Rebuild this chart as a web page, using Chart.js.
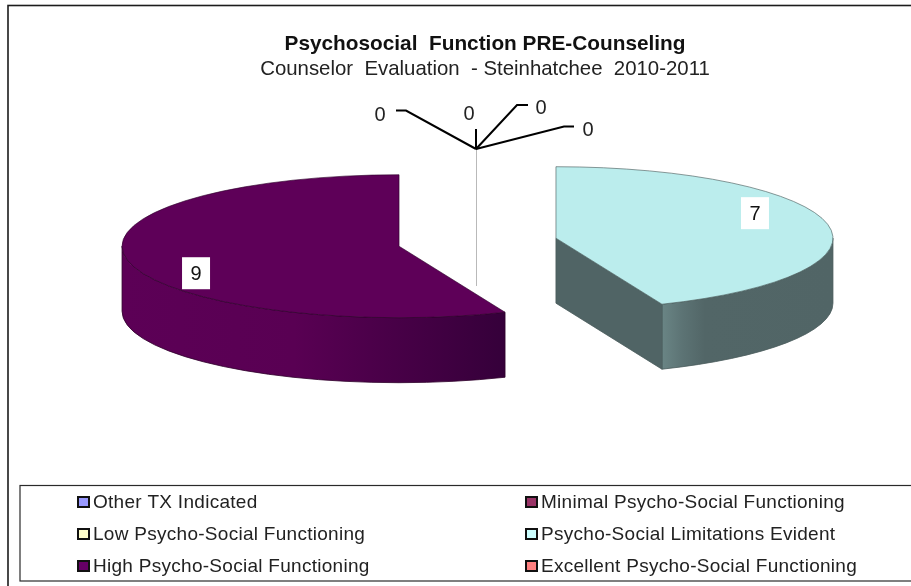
<!DOCTYPE html>
<html>
<head>
<meta charset="utf-8">
<style>
  html, body { margin: 0; padding: 0; background: #fff; overflow: hidden; }
  canvas { display: block; }
</style>
<script src="https://cdn.jsdelivr.net/npm/chart.js@4/dist/chart.umd.js"></script>
</head>
<body>
<canvas id="pie" width="911" height="586"></canvas>
<script>
const categories = ['Other TX Indicated', 'Minimal Psycho-Social Functioning', 'Low Psycho-Social Functioning', 'Psycho-Social Limitations Evident', 'High Psycho-Social Functioning', 'Excellent Psycho-Social Functioning'];
const counts = [0, 0, 0, 7, 9, 0];
const legendOrder = [[0, 1], [2, 3], [4, 5]];
const legendColors = ['#9999ff', '#993366', '#ffffcc', '#ccffff', '#660066', '#ff8080'];
const topColors = ['#9999ff', '#993366', '#ffffcc', '#bbeded', '#5e0058', '#ff8080'];
const edgeColors = ['#000', '#000', '#000', '#4a5c5c', '#2e002b', '#000'];
const chartTitle = 'Psychosocial  Function PRE-Counseling';
const chartSubtitle = 'Counselor  Evaluation  - Steinhatchee  2010-2011';

// look of the fake 3d pie
const pieX = 477.5, pieY = 242.2, radius = 277, squash = 0.258, depth = 65, explode = 80;
const wallStops = {
    3: [[0, '#6a8585'], [0.12, '#5c7374'], [0.25, '#526667'], [1, '#516566']],
    4: [[0, '#5c0056'], [0.45, '#590053'], [1, '#35003a']]
};
const cutColor = '#506465';

// where Excel left the labels of the empty and the real slices
const zeroLeaders = [
    { text: [380, 115], line: [[396, 110.5], [406, 110.5]] },
    { text: [469, 114], line: [[476, 129]] },
    { text: [541, 108], line: [[528, 105], [517, 105]] },
    { text: [588, 130], line: [[574, 126.5], [564, 126.5]] }
];
const hub = [476, 149], hubLineEnd = 286;
const valueLabelShift = { 3: [199, -25], 4: [-203, 27] };

function sliceCentre(arc) {
    const mid = (arc.startAngle + arc.endAngle) / 2;
    return {
        x: pieX + Math.cos(mid) * explode,
        y: pieY + Math.sin(mid) * explode * squash
    };
}

function drawWall(ctx, arc, i) {
    const c = sliceCentre(arc);
    const a0 = Math.max(arc.startAngle, 0), a1 = Math.min(arc.endAngle, Math.PI);
    if (a1 > a0) {
        const x0 = c.x + Math.cos(a1) * radius, x1 = c.x + Math.cos(a0) * radius;
        const grad = ctx.createLinearGradient(Math.min(x0, x1), 0, Math.max(x0, x1), 0);
        wallStops[i].forEach(s => grad.addColorStop(s[0], s[1]));
        ctx.beginPath();
        ctx.ellipse(c.x, c.y, radius, radius * squash, 0, a0, a1);
        ctx.ellipse(c.x, c.y + depth, radius, radius * squash, 0, a1, a0, true);
        ctx.closePath();
        ctx.fillStyle = grad;
        ctx.fill();
        ctx.strokeStyle = edgeColors[i];
        ctx.lineWidth = 0.8;
        ctx.stroke();
    }
    // flat cut face, only when it looks towards us
    if (Math.cos(arc.endAngle) > 0.001) {
        const ex = c.x + Math.cos(arc.endAngle) * radius;
        const ey = c.y + Math.sin(arc.endAngle) * radius * squash;
        ctx.beginPath();
        ctx.moveTo(c.x, c.y);
        ctx.lineTo(ex, ey);
        ctx.lineTo(ex, ey + depth);
        ctx.lineTo(c.x, c.y + depth);
        ctx.closePath();
        ctx.fillStyle = cutColor;
        ctx.fill();
        ctx.strokeStyle = edgeColors[i];
        ctx.lineWidth = 0.8;
        ctx.stroke();
    }
}

const pie3d = {
    id: 'pie3d',
    beforeDraw(chart) {
        const ctx = chart.ctx;
        ctx.save();
        ctx.fillStyle = '#fff';
        ctx.fillRect(0, 0, chart.width, chart.height);
        ctx.strokeStyle = '#1c1c1c';
        ctx.lineWidth = 1.6;
        ctx.strokeRect(8, 5.5, chart.width + 20, chart.height + 20);
        ctx.restore();
    },
    beforeDatasetDraw(chart, args) {
        const ctx = chart.ctx;
        const arcs = chart.getDatasetMeta(args.index).data;
        arcs.forEach((arc, i) => {
            if (counts[i] > 0) drawWall(ctx, arc, i);
        });
        arcs.forEach(arc => {
            const c = sliceCentre(arc);
            ctx.save();
            ctx.translate(c.x, c.y);
            ctx.scale(1, squash);
            ctx.translate(-arc.x, -arc.y);
            arc.draw(ctx);
            ctx.restore();
        });
        return false;
    },
    afterDatasetsDraw(chart) {
        const ctx = chart.ctx;
        const arcs = chart.getDatasetMeta(0).data;
        ctx.save();
        // leader lines of the empty slices
        ctx.strokeStyle = '#b9b9b9';
        ctx.lineWidth = 1;
        ctx.beginPath();
        ctx.moveTo(hub[0] + 0.5, hub[1]);
        ctx.lineTo(hub[0] + 0.5, hubLineEnd);
        ctx.stroke();
        ctx.strokeStyle = '#000';
        ctx.lineWidth = 2;
        ctx.font = '20px "Liberation Sans"';
        ctx.textAlign = 'center';
        ctx.textBaseline = 'middle';
        let zeros = counts.filter(v => v == 0);
        zeroLeaders.forEach((l, i) => {
            ctx.beginPath();
            ctx.moveTo(hub[0], hub[1]);
            l.line.slice().reverse().forEach(p => ctx.lineTo(p[0], p[1]));
            ctx.stroke();
            ctx.fillStyle = '#222';
            ctx.fillText(String(zeros[i]), l.text[0], l.text[1]);
        });
        // value boxes
        Object.keys(valueLabelShift).forEach(k => {
            const c = sliceCentre(arcs[k]);
            const x = c.x + valueLabelShift[k][0], y = c.y + valueLabelShift[k][1];
            ctx.fillStyle = '#fff';
            ctx.fillRect(x - 14, y - 16, 28, 32);
            ctx.fillStyle = '#111';
            ctx.fillText(String(counts[k]), x, y + 1);
        });
        ctx.restore();
    },
    afterDraw(chart) {
        const ctx = chart.ctx;
        ctx.save();
        ctx.strokeStyle = '#2a2a2a';
        ctx.lineWidth = 1.2;
        ctx.strokeRect(20, 485.5, chart.width, 95.5);
        ctx.font = '19px "Liberation Sans"';
        ctx.letterSpacing = '0.28px';
        ctx.textBaseline = 'middle';
        const colX = [77, 525], rowY = [502, 534, 566];
        legendOrder.forEach((row, r) => {
            row.forEach((idx, c) => {
                ctx.fillStyle = legendColors[idx];
                ctx.strokeStyle = '#111';
                ctx.lineWidth = 2;
                ctx.fillRect(colX[c] + 1, rowY[r] - 5, 11, 10);
                ctx.strokeRect(colX[c] + 1, rowY[r] - 5, 11, 10);
                ctx.fillStyle = '#222';
                ctx.fillText(categories[idx], colX[c] + 16, rowY[r] + 0.5);
            });
        });
        ctx.restore();
    }
};

const ct1 = document.getElementById('pie').getContext('2d');
const myChart = new Chart(ct1, {
    type: 'pie',
    data: {
        labels: categories,
        datasets: [{
            data: counts,
            backgroundColor: topColors,
            borderColor: edgeColors,
            borderWidth: 1,
            radius: radius
        }]
    },
    options: {
        responsive: false,
        animation: false,
        layout: {
            padding: { left: 59 }
        },
        plugins: {
            legend: { display: false },
            tooltip: { enabled: false },
            title: {
                display: true,
                text: chartTitle,
                color: '#111',
                font: { family: '"Liberation Sans"', size: 20.8, weight: 'bold', lineHeight: 1.2 },
                padding: { top: 32, bottom: 0 }
            },
            subtitle: {
                display: true,
                text: chartSubtitle,
                color: '#222',
                font: { family: '"Liberation Sans"', size: 20.4, weight: 'normal', lineHeight: 1.2 },
                padding: { top: 0, bottom: 0 }
            }
        }
    },
    plugins: [pie3d]
});
</script>
</body>
</html>
